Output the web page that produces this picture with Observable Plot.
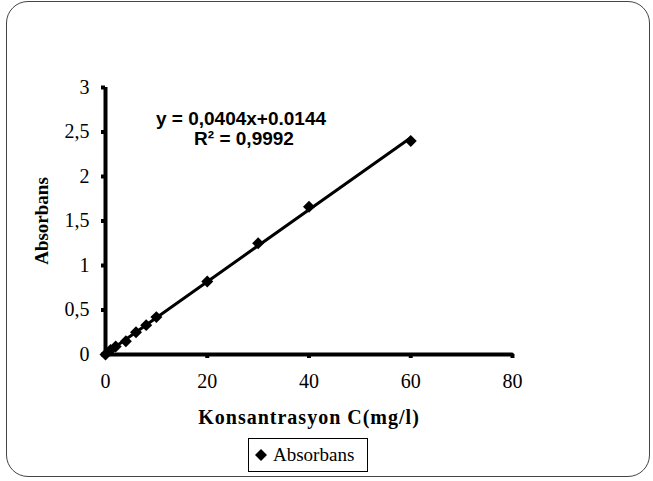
<!DOCTYPE html>
<html>
<head>
<meta charset="utf-8">
<script src="https://cdn.jsdelivr.net/npm/d3@7"></script>
<script src="https://cdn.jsdelivr.net/npm/@observablehq/plot@0.6"></script>
<style>
  html, body { margin: 0; padding: 0; background: #fff; }
  #wrap { position: relative; width: 653px; height: 481px; overflow: hidden; background: #fff; }
  #border { position: absolute; left: 6px; top: 1px; width: 642px; height: 474px;
            border: 1.5px solid #444; border-radius: 22px; pointer-events: none; }
  #chart { position: absolute; left: 0; top: 0; }
  #legend { position: absolute; left: 248px; top: 438px; width: 120px; height: 34px;
            border: 1px solid #000; background: #fff; box-sizing: border-box;
            font-family: "Liberation Serif", "Times New Roman", serif; font-size: 19px;
            display: flex; align-items: center; padding-left: 6px; color: #000; }
  #legend svg { margin-right: 6px; }
</style>
</head>
<body>
<div id="wrap">
  <div id="chart"></div>
  <div id="border"></div>
  <div id="legend"></div>
</div>
<script>
// ---- data ----
const concentrations = [0, 1, 2, 4, 6, 8, 10, 20, 30, 40, 60];
const absorbans      = [0, 0.05, 0.09, 0.15, 0.25, 0.33, 0.42, 0.82, 1.25, 1.66, 2.40];
const xTicks = [0, 20, 40, 60, 80];
const yTicks = [0, 0.5, 1, 1.5, 2, 2.5, 3];
const yTickLabels = ["0", "0,5", "1", "1,5", "2", "2,5", "3"];
const xLabel = "Konsantrasyon C(mg/l)";
const yLabel = "Absorbans";
const equationLines = ["y = 0,0404x+0.0144", "R\u00B2 = 0,9992"];
const seriesName = "Absorbans";

const data = concentrations.map((c, i) => ({c, a: absorbans[i]}));
const serif = "'Liberation Serif', 'Times New Roman', serif";
const sans = "'Liberation Sans', Arial, sans-serif";

const chart = Plot.plot({
  width: 653,
  height: 481,
  marginLeft: 105,
  marginRight: 141,
  marginTop: 87,
  marginBottom: 127,
  style: {background: "white", color: "black", fontFamily: serif, overflow: "visible"},
  x: {domain: [0, 80]},
  y: {domain: [0, 3]},
  marks: [
    Plot.axisX(xTicks, {tickSize: 4, strokeWidth: 4, tickPadding: 15, fontSize: 20, fontFamily: serif, label: null}),
    Plot.axisY(yTicks, {tickSize: 4, strokeWidth: 4, tickPadding: 12, fontSize: 20, fontFamily: serif, label: null,
      tickFormat: (d) => yTickLabels[yTicks.indexOf(d)]}),
    Plot.ruleX([0], {strokeWidth: 4, stroke: "black"}),
    Plot.ruleY([0], {strokeWidth: 4, stroke: "black", strokeLinecap: "round"}),
    Plot.linearRegressionY(data, {x: "c", y: "a", ci: 0, stroke: "black", strokeWidth: 3}),
    Plot.dot(data, {x: "c", y: "a", symbol: "diamond2", r: 5.4, fill: "black", stroke: "none"}),
    Plot.text([equationLines[0]], {frameAnchor: "top-left", dx: 135.5, dy: 31, textAnchor: "middle", lineAnchor: "middle",
      fontFamily: sans, fontWeight: "bold", fontSize: 19, fill: "black"}),
    Plot.text([equationLines[1]], {frameAnchor: "top-left", dx: 138.5, dy: 51, textAnchor: "middle", lineAnchor: "middle",
      fontFamily: sans, fontWeight: "bold", fontSize: 19, fill: "black"}),
    Plot.text([xLabel], {frameAnchor: "bottom", dy: 63, textAnchor: "middle", lineAnchor: "middle",
      fontFamily: serif, fontWeight: "bold", fontSize: 20, fill: "black", className: "xlab"}),
    Plot.text([yLabel], {frameAnchor: "left", dx: -64, rotate: -90, textAnchor: "middle", lineAnchor: "middle",
      fontFamily: serif, fontWeight: "bold", fontSize: 19, fill: "black"})
  ]
});
d3.select(chart).selectAll(".xlab text").style("letter-spacing", "1px");
document.getElementById("chart").appendChild(chart);

// legend
const legend = document.getElementById("legend");
const sym = d3.create("svg").attr("width", 12).attr("height", 12);
sym.append("path").attr("transform", "translate(6,6)").attr("d", "M0,-6L6,0L0,6L-6,0Z").attr("fill", "black");
legend.appendChild(sym.node());
legend.appendChild(document.createTextNode(seriesName));
</script>
</body>
</html>
